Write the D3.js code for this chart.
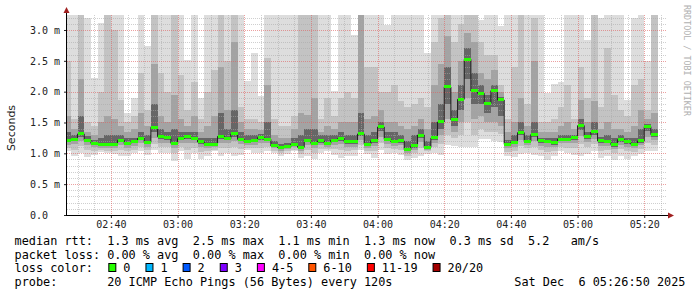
<!DOCTYPE html>
<html>
<head>
<meta charset="utf-8">
<script src="https://cdn.jsdelivr.net/npm/d3@7"></script>
<style>
  body { margin: 0; background: #fff; }
  text { white-space: pre; }
</style>
</head>
<body>
<div id="chart"></div>
<script>
// smokeping graph: 20 pings every 120s, values in milliseconds
// bar i covers the 2 minutes ending at 02:28 + 2*i min
const firstStepEnd = Date.UTC(2025, 11, 6, 2, 28, 0);
const stepMs = 120000;
const graphStart = Date.UTC(2025, 11, 6, 2, 26, 50);
const graphEnd = Date.UTC(2025, 11, 6, 5, 26, 50);

const rttMedian = [
  1.205, 1.232, 1.314, 1.216, 1.162, 1.146, 1.146, 1.151, 1.211, 1.157,
  1.184, 1.243, 1.178, 1.422, 1.270, 1.254, 1.162, 1.238, 1.270, 1.243,
  1.184, 1.146, 1.146, 1.276, 1.238, 1.314, 1.227, 1.184, 1.216, 1.254,
  1.227, 1.119, 1.092, 1.108, 1.151, 1.097, 1.211, 1.162, 1.200, 1.162,
  1.216, 1.238, 1.184, 1.184, 1.314, 1.151, 1.205, 1.427, 1.227, 1.184,
  1.200, 1.060, 1.119, 1.297, 1.097, 1.249, 1.508, 2.076, 1.541, 1.876,
  2.524, 2.011, 1.973, 1.816, 2.016, 1.865, 1.146, 1.178, 1.335, 1.195,
  1.308, 1.205, 1.195, 1.173, 1.232, 1.232, 1.249, 1.449, 1.270, 1.346,
  1.200, 1.189, 1.141, 1.222, 1.184, 1.146, 1.200, 1.432, 1.303
];
const rttMin = [
  1.03, 0.96, 1.00, 0.94, 0.97, 1.02, 1.00, 0.99, 0.96, 0.95,
  1.00, 1.03, 0.97, 1.06, 1.00, 1.00, 0.88, 1.03, 0.91, 1.01,
  0.91, 0.96, 1.03, 0.95, 1.00, 0.96, 0.97, 1.05, 1.01, 1.00,
  1.03, 1.00, 0.95, 0.99, 1.03, 0.92, 0.95, 0.90, 1.00, 1.03,
  0.97, 0.92, 0.95, 0.96, 1.05, 0.99, 0.92, 1.06, 0.99, 1.01,
  0.97, 0.89, 0.92, 0.95, 0.99, 1.00, 0.97, 1.13, 1.12, 1.11,
  1.11, 1.11, 1.23, 1.24, 1.20, 1.19, 0.95, 0.94, 0.99, 1.01,
  0.98, 0.95, 0.89, 0.95, 1.03, 1.01, 0.97, 0.96, 0.99, 1.03,
  0.92, 0.95, 0.89, 0.96, 0.90, 0.95, 0.99, 1.03, 1.04
];
const rttP10 = [
  1.09, 1.06, 1.12, 1.06, 1.04, 1.05, 1.04, 1.03, 1.06, 1.03,
  1.06, 1.10, 1.05, 1.15, 1.10, 1.10, 1.00, 1.10, 1.05, 1.09,
  1.02, 1.03, 1.06, 1.08, 1.09, 1.10, 1.07, 1.09, 1.08, 1.09,
  1.10, 1.04, 1.00, 1.03, 1.06, 0.99, 1.06, 1.00, 1.07, 1.07,
  1.07, 1.05, 1.04, 1.05, 1.14, 1.04, 1.04, 1.16, 1.08, 1.07,
  1.06, 0.95, 1.00, 1.09, 1.03, 1.10, 1.15, 1.30, 1.25, 1.30,
  1.50, 1.30, 1.40, 1.35, 1.35, 1.32, 1.02, 1.03, 1.12, 1.08,
  1.10, 1.05, 1.02, 1.04, 1.10, 1.09, 1.08, 1.15, 1.10, 1.15,
  1.04, 1.05, 1.00, 1.07, 1.03, 1.02, 1.07, 1.16, 1.13
];
const rttP25 = [
  1.14, 1.15, 1.20, 1.14, 1.10, 1.09, 1.08, 1.08, 1.13, 1.09,
  1.12, 1.16, 1.11, 1.25, 1.17, 1.17, 1.08, 1.16, 1.16, 1.16,
  1.10, 1.08, 1.10, 1.17, 1.16, 1.20, 1.15, 1.13, 1.14, 1.17,
  1.16, 1.08, 1.04, 1.07, 1.10, 1.04, 1.13, 1.08, 1.13, 1.11,
  1.14, 1.15, 1.11, 1.11, 1.22, 1.09, 1.12, 1.26, 1.15, 1.12,
  1.13, 1.00, 1.06, 1.19, 1.06, 1.17, 1.30, 1.55, 1.35, 1.50,
  1.90, 1.55, 1.60, 1.50, 1.50, 1.45, 1.08, 1.10, 1.22, 1.13,
  1.20, 1.12, 1.11, 1.10, 1.16, 1.16, 1.16, 1.28, 1.18, 1.24,
  1.12, 1.12, 1.07, 1.14, 1.11, 1.08, 1.13, 1.27, 1.21
];
const rttP40 = [
  1.18, 1.20, 1.27, 1.19, 1.14, 1.12, 1.12, 1.12, 1.18, 1.13,
  1.16, 1.21, 1.15, 1.35, 1.23, 1.22, 1.13, 1.21, 1.23, 1.21,
  1.15, 1.12, 1.13, 1.23, 1.21, 1.27, 1.20, 1.16, 1.19, 1.22,
  1.20, 1.10, 1.07, 1.09, 1.13, 1.07, 1.18, 1.13, 1.17, 1.14,
  1.19, 1.20, 1.15, 1.15, 1.28, 1.13, 1.17, 1.36, 1.20, 1.16,
  1.17, 1.04, 1.09, 1.25, 1.08, 1.22, 1.40, 1.80, 1.45, 1.70,
  2.20, 1.80, 1.80, 1.65, 1.75, 1.60, 1.12, 1.15, 1.29, 1.17,
  1.26, 1.17, 1.16, 1.14, 1.20, 1.20, 1.21, 1.38, 1.23, 1.30,
  1.17, 1.16, 1.11, 1.19, 1.15, 1.12, 1.17, 1.37, 1.26
];
const rttP60 = [
  1.35, 1.30, 1.60, 1.28, 1.22, 1.25, 1.30, 1.30, 1.30, 1.25,
  1.25, 1.35, 1.30, 1.80, 1.40, 1.35, 1.40, 1.35, 1.35, 1.35,
  1.25, 1.25, 1.25, 1.65, 1.40, 1.70, 1.35, 1.30, 1.30, 1.32,
  1.50, 1.20, 1.15, 1.16, 1.25, 1.30, 1.40, 1.40, 1.30, 1.30,
  1.30, 1.35, 1.30, 1.30, 1.65, 1.30, 1.35, 1.50, 1.35, 1.35,
  1.30, 1.20, 1.30, 1.40, 1.20, 1.50, 1.80, 2.40, 1.70, 2.10,
  2.70, 2.30, 2.10, 1.95, 2.10, 1.92, 1.22, 1.30, 1.50, 1.30,
  1.50, 1.25, 1.25, 1.25, 1.30, 1.30, 1.30, 1.55, 1.35, 1.50,
  1.27, 1.30, 1.25, 1.30, 1.25, 1.25, 1.40, 1.48, 1.40
];
const rttP75 = [
  1.60, 1.40, 2.20, 1.35, 1.30, 1.50, 1.60, 1.55, 1.45, 1.35,
  1.40, 1.65, 1.45, 2.45, 1.60, 1.50, 1.95, 1.55, 1.45, 1.60,
  1.35, 1.45, 1.60, 2.40, 1.70, 2.80, 1.50, 1.40, 1.40, 1.38,
  2.10, 1.30, 1.25, 1.25, 1.40, 1.65, 1.62, 1.90, 1.35, 1.45,
  1.40, 1.50, 1.50, 1.50, 3.30, 1.55, 1.60, 1.70, 1.50, 1.50,
  1.45, 1.40, 1.45, 1.55, 1.40, 2.10, 2.45, 2.90, 2.00, 2.50,
  2.95, 2.80, 2.30, 2.20, 2.35, 2.00, 1.35, 1.50, 1.90, 1.45,
  2.50, 1.35, 1.35, 1.35, 1.45, 1.50, 1.40, 1.86, 1.50, 1.85,
  1.40, 1.50, 1.40, 1.40, 1.35, 1.45, 1.70, 1.55, 1.65
];
const rttP90 = [
  2.50, 1.55, 3.60, 1.50, 1.45, 2.00, 3.30, 3.00, 1.86, 1.50,
  1.60, 2.30, 1.70, 3.30, 2.30, 2.00, 3.30, 2.27, 1.70, 2.16,
  1.55, 2.00, 2.35, 3.60, 2.50, 3.60, 1.75, 1.55, 1.55, 1.50,
  2.54, 1.55, 1.45, 1.45, 1.60, 3.60, 3.30, 3.60, 1.55, 1.90,
  1.60, 1.90, 2.00, 1.90, 3.60, 2.40, 2.40, 2.00, 2.00, 2.10,
  1.85, 1.75, 1.80, 1.90, 1.75, 2.80, 3.20, 3.60, 2.80, 3.10,
  3.60, 3.60, 2.80, 2.60, 2.60, 2.10, 1.55, 2.40, 3.60, 1.80,
  3.20, 1.50, 1.50, 1.55, 1.75, 2.10, 1.55, 2.40, 1.90, 3.60,
  1.75, 2.70, 1.95, 1.70, 1.60, 2.10, 2.20, 1.70, 3.60
];
const rttMax = [
  3.60, 3.60, 3.60, 3.20, 2.22, 3.12, 3.60, 3.60, 3.60, 1.65,
  1.89, 3.60, 2.74, 3.60, 3.60, 3.60, 3.60, 3.60, 2.52, 3.60,
  1.90, 3.60, 3.60, 3.60, 3.60, 3.60, 3.60, 2.18, 2.62, 1.93,
  3.60, 3.60, 3.60, 3.60, 3.60, 3.60, 3.60, 3.60, 3.60, 3.60,
  2.01, 3.60, 3.60, 2.92, 3.60, 3.60, 3.60, 3.60, 3.08, 3.60,
  3.60, 3.60, 3.60, 3.60, 2.63, 3.60, 3.60, 3.60, 3.60, 3.60,
  3.60, 3.60, 3.17, 3.60, 3.60, 3.07, 3.60, 3.60, 3.60, 3.60,
  3.60, 3.60, 1.98, 2.12, 2.16, 3.60, 3.60, 3.60, 2.84, 3.60,
  3.20, 3.60, 3.60, 3.60, 1.86, 3.20, 3.60, 2.49, 3.60
];

const yMax = 3.243;
const yTicks = [0, 0.5, 1.0, 1.5, 2.0, 2.5, 3.0];

const rttSummary = [["1.3", "avg"], ["2.5", "max"], ["1.1", "min"], ["1.3", "now"], ["0.3", "sd"]];
const amPerSec = "5.2";
const lossSummary = [["0.00", "avg"], ["0.00", "max"], ["0.00", "min"], ["0.00", "now"]];
const lossLabels = ["0", "1", "2", "3", "4-5", "6-10", "11-19", "20/20"];
const lossColors = ["#26ff00", "#00b8ff", "#0059ff", "#7e00ff", "#ff00ff", "#ff5500", "#ff0000", "#a10000"];
const probeText = "20 ICMP Echo Pings (56 Bytes) every 120s";
const stampText = "Sat Dec  6 05:26:50 2025";

// canvas
const width = 697, height = 297;
const margin = {top: 15, right: 30, bottom: 82, left: 67};
const mono = "'DejaVu Sans Mono', monospace";

const svg = d3.select("#chart").append("svg")
    .attr("width", width)
    .attr("height", height)
    .style("font-family", mono);

// scales
const x = d3.scaleUtc()
    .domain([graphStart, graphEnd])
    .range([margin.left, width - margin.right]);

const y = d3.scaleLinear()
    .domain([0, yMax])
    .range([height - margin.bottom, margin.top]);

const x0 = margin.left, x1 = width - margin.right;
const y0 = height - margin.bottom, y1 = margin.top;

svg.append("clipPath").attr("id", "plotclip")
    .append("rect")
    .attr("x", x0).attr("y", y1)
    .attr("width", x1 - x0).attr("height", y0 - y1);

const bars = d3.range(rttMedian.length).map(i => {
    const end = firstStepEnd + i * stepMs;
    const left = Math.max(x(end - stepMs), x0);
    return {i: i, left: left, right: x(end)};
});

// smoke bands, lightest outside, darkest round the median
const bands = [
    {lo: rttMin, hi: rttMax, color: "#dddddd"},
    {lo: rttP10, hi: rttP90, color: "#c3c3c3"},
    {lo: rttP25, hi: rttP75, color: "#a3a3a3"},
    {lo: rttP40, hi: rttP60, color: "#666666"}
];

const smoke = svg.append("g").attr("clip-path", "url(#plotclip)").attr("shape-rendering", "crispEdges");
bands.forEach(b => {
    smoke.append("g").selectAll("rect")
        .data(bars)
        .enter()
        .append("rect")
        .attr("x", d => d.left)
        .attr("width", d => d.right - d.left)
        .attr("y", d => y(b.hi[d.i]))
        .attr("height", d => y(b.lo[d.i]) - y(b.hi[d.i]))
        .attr("fill", b.color);
});

// grid (drawn over the smoke like rrdtool does)
const grid = svg.append("g").attr("shape-rendering", "crispEdges");
const minorY = d3.range(1, 33).map(k => k / 10).filter(v => Math.round(v * 10) % 5 !== 0);
const majorY = yTicks.filter(v => v > 0);
const minorX = x.ticks(d3.utcMinute.every(5)).filter(t => t.getUTCMinutes() % 20 !== 0);
const majorX = x.ticks(d3.utcMinute.every(20));

grid.selectAll(".hminor").data(minorY).enter().append("line")
    .attr("x1", x0).attr("x2", x1)
    .attr("y1", d => Math.round(y(d)) + 0.5).attr("y2", d => Math.round(y(d)) + 0.5)
    .attr("stroke", "#a8a8a8").attr("stroke-opacity", 0.55).attr("stroke-dasharray", "1,1");
grid.selectAll(".vminor").data(minorX).enter().append("line")
    .attr("y1", y1).attr("y2", y0)
    .attr("x1", d => Math.round(x(d)) + 0.5).attr("x2", d => Math.round(x(d)) + 0.5)
    .attr("stroke", "#a8a8a8").attr("stroke-opacity", 0.55).attr("stroke-dasharray", "1,1");
grid.selectAll(".hmajor").data(majorY).enter().append("line")
    .attr("x1", x0).attr("x2", x1)
    .attr("y1", d => Math.round(y(d)) + 0.5).attr("y2", d => Math.round(y(d)) + 0.5)
    .attr("stroke", "#e06060").attr("stroke-opacity", 0.6).attr("stroke-dasharray", "1,1");
grid.selectAll(".vmajor").data(majorX).enter().append("line")
    .attr("y1", y1).attr("y2", y0)
    .attr("x1", d => Math.round(x(d)) + 0.5).attr("x2", d => Math.round(x(d)) + 0.5)
    .attr("stroke", "#e06060").attr("stroke-opacity", 0.6).attr("stroke-dasharray", "1,1");

// median line + loss coloured marks
const medianPts = bars.flatMap(d => [[d.left, y(rttMedian[d.i])], [d.right, y(rttMedian[d.i])]]);
svg.append("path")
    .attr("d", d3.line()(medianPts))
    .attr("fill", "none")
    .attr("stroke", "#202020")
    .attr("stroke-width", 1);

svg.append("g").attr("shape-rendering", "crispEdges").selectAll("rect")
    .data(bars)
    .enter()
    .append("rect")
    .attr("x", d => d.left)
    .attr("width", d => d.right - d.left)
    .attr("y", d => y(rttMedian[d.i]) - 1.5)
    .attr("height", 3)
    .attr("fill", lossColors[0]);

// axes
const xAxis = d3.axisBottom(x)
    .ticks(d3.utcMinute.every(20))
    .tickFormat(d3.utcFormat("%H:%M"))
    .tickSize(3)
    .tickSizeOuter(0);
const yAxis = d3.axisLeft(y)
    .tickValues(yTicks)
    .tickFormat(v => v === 0 ? "0.0  " : v.toFixed(1) + " m")
    .tickSize(3)
    .tickSizeOuter(0);

const gx = svg.append("g")
    .attr("transform", `translate(0, ${y0})`)
    .call(xAxis);
const gy = svg.append("g")
    .attr("transform", `translate(${x0}, 0)`)
    .call(yAxis);

[gx, gy].forEach(g => {
    g.select(".domain").remove();
    g.selectAll("text").attr("font-family", mono).attr("font-size", 10).attr("fill", "#222");
    g.selectAll("line").attr("stroke", "#222");
});
gy.selectAll("text").attr("x", -7);

// axis lines with arrow heads
svg.append("line")
    .attr("x1", x0 - 0.5).attr("x2", x1 + 2)
    .attr("y1", y0 + 0.5).attr("y2", y0 + 0.5)
    .attr("stroke", "#000");
svg.append("line")
    .attr("x1", x0 - 0.5).attr("x2", x0 - 0.5)
    .attr("y1", y0 + 1).attr("y2", y1 - 3)
    .attr("stroke", "#000");
svg.append("path")
    .attr("d", `M${x1 + 1},${y0 - 2.5} L${x1 + 7},${y0 + 0.5} L${x1 + 1},${y0 + 3.5} Z`)
    .attr("fill", "#a02020");
svg.append("path")
    .attr("d", `M${x0 - 3.5},${y1 - 2} L${x0 - 0.5},${y1 - 8} L${x0 + 2.5},${y1 - 2} Z`)
    .attr("fill", "#a02020");

// vertical axis title
svg.append("text")
    .attr("transform", `translate(15, ${(y0 + y1) / 2 + 13}) rotate(-90)`)
    .attr("text-anchor", "middle")
    .attr("font-family", "'DejaVu Sans', sans-serif")
    .attr("font-size", 11)
    .attr("fill", "#222")
    .text("Seconds");

// watermark
svg.append("text")
    .attr("transform", `translate(684, 5) rotate(90)`)
    .attr("font-size", 8.4)
    .attr("fill", "#b0b0b0")
    .text("RRDTOOL / TOBI OETIKER");

// legend
const cw = 7.14;
const legendX = 14.5;
const rowY = [245, 258.5, 272, 285.5];
const fs = 11.85;

const row1 = "median rtt:  " + rttSummary.map(d => `${d[0]} ms ${d[1]}`).join("  ") + `  ${amPerSec}   am/s`;
const row2 = "packet loss: " + lossSummary.map(d => `${d[0]} % ${d[1]}`).join("  ");
const row4 = "probe:       " + probeText;

const legend = svg.append("g").attr("font-size", fs).attr("fill", "#000");
legend.append("text").attr("x", legendX).attr("y", rowY[0]).text(row1);
legend.append("text").attr("x", legendX).attr("y", rowY[1]).text(row2);
legend.append("text").attr("x", legendX).attr("y", rowY[2]).text("loss color:");
legend.append("text").attr("x", legendX).attr("y", rowY[3]).text(row4);
legend.append("text").attr("x", legendX + 70 * cw).attr("y", rowY[3]).text(stampText);

let bx = legendX + 13 * cw + 1;
lossLabels.forEach((lab, k) => {
    legend.append("rect")
        .attr("x", bx + 0.5).attr("y", rowY[2] - 8.5)
        .attr("width", 7).attr("height", 8)
        .attr("fill", lossColors[k])
        .attr("stroke", "#000").attr("stroke-width", 1);
    const tx = bx + 15;
    legend.append("text").attr("x", tx).attr("y", rowY[2]).text(lab);
    bx = tx + lab.length * cw + 15;
});
</script>
</body>
</html>
